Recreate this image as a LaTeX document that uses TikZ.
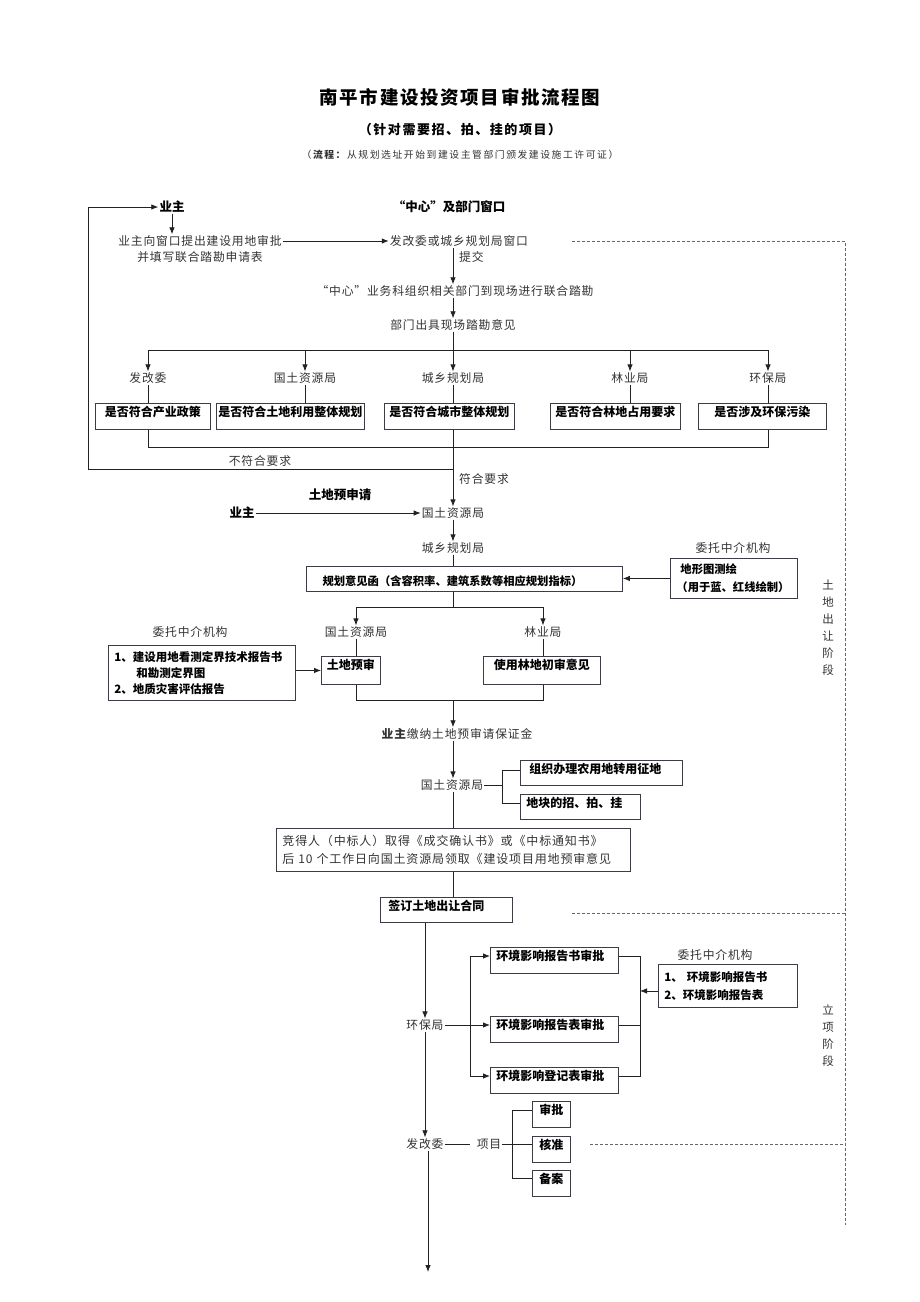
\documentclass[tikz,border=0pt]{standalone}
\usepackage{fontspec}
\setmainfont{Noto Sans CJK SC}
\newfontfamily\nfont[LetterSpace=7]{Noto Sans CJK SC}
\newfontfamily\tfont[LetterSpace=9]{Noto Sans CJK SC}
\newfontfamily\sfont[LetterSpace=12]{Noto Sans CJK SC}
\newfontfamily\pfont[LetterSpace=16]{Noto Sans CJK SC}
\usetikzlibrary{arrows.meta}
\definecolor{lnc}{HTML}{222222}
\definecolor{boxc}{HTML}{3C3C44}
\definecolor{txc}{HTML}{333333}
\definecolor{dashc}{HTML}{666666}
\begin{document}
\begin{tikzpicture}[x=1pt,y=-1pt,
 txt/.style={font=\nfont\fontsize{11.8}{14}\selectfont, inner sep=1pt, text=txc},
 btxt/.style={font=\bfseries\fontsize{12.5}{15}\selectfont, inner sep=1pt},
 ln/.style={draw=lnc, line width=0.8pt},
 arr/.style={ln, -{Latex[length=7pt,width=5.5pt]}},
 dsh/.style={draw=dashc, line width=0.8pt, dash pattern=on 3pt off 2pt},
 bx/.style={draw=boxc, line width=0.9pt, anchor=north west, inner xsep=2pt, inner ysep=0pt, font=\bfseries\fontsize{12}{14}\selectfont, align=center, text height=13.5pt},
 mbx/.style={draw=boxc, line width=0.9pt, anchor=north west, inner xsep=6pt, inner ysep=2pt, align=left},
 vlab/.style={font=\fontsize{11.5}{17}\selectfont, align=center, text=txc, inner sep=0pt},
]
\fill[white] (0,0) rectangle (920,1302);
\useasboundingbox (0,0) rectangle (920,1302);

% titles
\node[font=\tfont\bfseries\fontsize{18.5}{22}\selectfont] (title) at (460,97) {南平市建设投资项目审批流程图};
\node[font=\sfont\bfseries\fontsize{13}{16}\selectfont] (subt) at (460,130) {（针对需要招、拍、挂的项目）};
\node[font=\pfont\fontsize{9.8}{12}\selectfont, text=txc] (proc) at (460,155) {（\textbf{流程：}从规划选址开始到建设主管部门颁发建设施工许可证）};

\coordinate (cx) at (453,0);

% header
\node[btxt] (yz1) at (172,207) {业主};
\node[btxt] (zx) at (449,207) {“中心”及部门窗口};
\node[txt] (sq1) at (200,241) {业主向窗口提出建设用地审批};
\node[txt] (sq2) at (200,257) {并填写联合踏勘申请表};
\node[txt] (fgw1) at (459,241) {发改委或城乡规划局窗口};
\node[txt, anchor=west] (tj) at (458,257) {提交};
\node[txt] (zx2) at (455,291) {“中心”业务科组织相关部门到现场进行联合踏勘};
\node[txt] (bm) at (453,325) {部门出具现场踏勘意见};

\draw[arr] (yz1.south) -- (yz1.south |- sq1.north);
\draw[arr] (sq1.east) -- (fgw1.west);
\draw[arr] (fgw1.south -| cx) -- (zx2.north -| cx);
\draw[arr] (zx2.south -| cx) -- (bm.north -| cx);

% branch to departments
\coordinate (br) at (453,350);
\node[txt] (d1) at (148,378) {发改委};
\node[txt] (d2) at (305,378) {国土资源局};
\node[txt] (d3) at (453,378) {城乡规划局};
\node[txt] (d4) at (630,378) {林业局};
\node[txt] (d5) at (768,378) {环保局};
\draw[ln] (bm.south -| cx) -- (br);
\draw[ln] (br -| d1) -- (br -| d5);
\foreach \n in {d1,d2,d3,d4,d5} \draw[arr] (br -| \n) -- (\n.north);

\node[bx, minimum width=115pt, text depth=12.5pt] (q1) at (95,403) {是否符合产业政策};
\node[bx, minimum width=148pt, text depth=12.5pt] (q2) at (216,403) {是否符合土地利用整体规划};
\node[bx, minimum width=130pt, text depth=12.5pt] (q3) at (384,403) {是否符合城市整体规划};
\node[bx, minimum width=130pt, text depth=12.5pt] (q4) at (550,403) {是否符合林地占用要求};
\node[bx, minimum width=128pt, text depth=12.5pt] (q5) at (698,403) {是否涉及环保污染};
\foreach \n/\q in {d1/q1,d2/q2,d3/q3,d4/q4,d5/q5} \draw[ln] (\n.south) -- (\n.south |- \q.north);

\coordinate (jl) at (148,447);
\coordinate (jr) at (768,447);
\draw[ln] (q1.south -| jl) -- (jl) -- (jr) -- (q5.south -| jr);
\coordinate (j1) at (453,469);
\coordinate (lp) at (88,207);
\draw[arr] (j1) -| (lp) -- (yz1.west);
\node[txt] (bf) at (260,461) {不符合要求};
\node[txt, anchor=west] (fh) at (458,479) {符合要求};

% land pre-application
\node[btxt] (tdys) at (340,495) {土地预申请};
\node[btxt] (yz2) at (242,513) {业主};
\node[txt] (gt1) at (453,513) {国土资源局};
\draw[arr] (q3.south -| cx) -- (gt1.north);
\draw[arr] (yz2.east) -- (gt1.west);

\node[txt] (cg2) at (453,548) {城乡规划局};
\draw[arr] (gt1.south) -- (cg2.north);

\node[bx, minimum width=316pt, text height=19pt, text depth=6pt, font=\bfseries\fontsize{11.3}{14}\selectfont] (gh) at (306,566) {规划意见函（含容积率、建筑系数等相应规划指标）\hspace*{24pt}};
\draw[ln] (cg2.south) -- (cg2.south |- gh.north);

\node[txt] (wt1) at (733,548) {委托中介机构};
\node[mbx, minimum width=127pt, minimum height=40pt, text width=115pt, font=\bfseries\fontsize{11.3}{18}\selectfont] (dx) at (670,558) {\hspace*{4pt}地形图测绘\\（用于蓝、红线绘制）};
\draw[arr] (dx.west) -- (dx.west -| gh.east);

\coordinate (b2) at (453,607);
\node[txt] (gt2) at (356,632) {国土资源局};
\node[txt] (ly2) at (543,632) {林业局};
\draw[ln] (gh.south -| cx) -- (b2);
\draw[arr] (b2) -| (gt2.north);
\draw[arr] (b2) -| (ly2.north);

\node[bx, minimum width=59pt, text depth=14.5pt] (ys) at (321,656) {土地预审};
\node[bx, minimum width=117pt, text depth=14.5pt] (lyd) at (483,656) {使用林地初审意见};
\draw[ln] (gt2.south) -- (gt2.south |- ys.north);
\draw[ln] (ly2.south) -- (ly2.south |- lyd.north);
\coordinate (b3) at (453,700);
\draw[ln] (ys.south -| gt2) |- (b3) -| (lyd.south -| ly2);

\node[txt] (wt2) at (190,632) {委托中介机构};
\node[mbx, minimum width=187pt, minimum height=55pt, text width=175pt, font=\bfseries\fontsize{11.5}{16}\selectfont] (zj) at (108,645) {1、建设用地看测定界技术报告书\\\hspace*{22pt}和勘测定界图\\2、地质灾害评估报告};
\draw[arr] (zj.east |- ys.west) -- (ys.west);

\node[txt] (jn) at (457,734) {\textbf{业主}缴纳土地预审请保证金};
\draw[arr] (b3) -- (jn.north -| cx);

\node[txt] (gt3) at (452,785) {国土资源局};
\draw[arr] (jn.south -| cx) -- (gt3.north -| cx);

\node[bx, minimum width=162pt, text depth=11.5pt] (nz) at (520,760) {组织办理农用地转用征地\hspace*{12pt}};
\node[bx, minimum width=120pt, text depth=11.5pt] (dk) at (520,794) {地块的招、拍、挂\hspace*{12pt}};
\coordinate (k1) at (502,770);
\coordinate (k2) at (502,803);
\draw[ln] (gt3.east) -- (gt3.east -| k1);
\draw[ln] (nz.west |- k1) -- (k1) -- (k2) -- (dk.west |- k2);

\node[mbx, minimum width=354pt, minimum height=43pt, text width=342pt, font=\nfont\fontsize{12}{18}\selectfont, text=txc] (jd) at (276,828) {竞得人（中标人）取得《成交确认书》或《中标通知书》\\后 10 个工作日向国土资源局领取《建设项目用地预审意见};
\draw[ln] (gt3.south -| cx) -- (jd.north -| cx);

\node[bx, minimum width=132pt, text depth=11.5pt] (qd) at (380,897) {签订土地出让合同\hspace*{20pt}};
\draw[ln] (jd.south -| cx) -- (qd.north -| cx);

\coordinate (ds1) at (572,913);
\coordinate (ds2) at (845,913);
\draw[dsh] (ds1) -- (ds2);

% environmental stage
\node[txt] (hb) at (425,1025) {环保局};
\draw[arr] (qd.south -| hb) -- (hb.north);

\node[bx, minimum width=128pt, text depth=12.5pt] (h1) at (490,947) {环境影响报告书审批\hspace*{8pt}};
\node[bx, minimum width=128pt, text depth=12.5pt] (h2) at (490,1016) {环境影响报告表审批\hspace*{8pt}};
\node[bx, minimum width=128pt, text depth=12.5pt] (h3) at (490,1067) {环境影响登记表审批\hspace*{8pt}};
\coordinate (a1) at (470,956);
\coordinate (a3) at (470,1076);
\draw[ln] (a1) -- (a3);
\draw[arr] (a1) -- (a1 -| h1.west);
\draw[arr] (a3) -- (a3 -| h3.west);
\draw[arr] (hb.east) -- (hb.east -| h2.west);
\coordinate (r1) at (640,956);
\coordinate (r3) at (640,1076);
\draw[ln] (r1 -| h1.east) -- (r1) -- (r3) -- (r3 -| h3.east);
\draw[ln] (h2.east |- hb) -- (hb -| r1);

\node[txt] (wt3) at (715,955) {委托中介机构};
\node[mbx, minimum width=139pt, minimum height=43pt, text width=127pt, font=\bfseries\fontsize{11.5}{18}\selectfont] (zj2) at (658,964) {1、 环境影响报告书\\2、环境影响报告表};
\draw[arr] ([yshift=-5pt]zj2.west) -- ([yshift=-5pt]zj2.west -| r1);

% project stage
\node[txt] (fg) at (425,1144) {发改委};
\draw[arr] (hb.south) -- (fg.north);
\node[txt] (xm) at (489,1144) {项目};
\draw[ln] (fg.east) -- ([xshift=-6pt]xm.west);
\coordinate (m1) at (512,1110);
\coordinate (m2) at (512,1144);
\coordinate (m3) at (512,1178);
\node[bx, minimum width=38pt, text depth=12.5pt] (s1) at (532,1101) {审批};
\node[bx, minimum width=38pt, text depth=12.5pt] (s2) at (532,1136) {核准};
\node[bx, minimum width=38pt, text depth=12.5pt] (s3) at (532,1170) {备案};
\draw[ln] (xm.east) -- (m2);
\draw[ln] (s1.west |- m1) -- (m1) -- (m3) -- (s3.west |- m3);
\draw[ln] (m2) -- (m2 -| s2.west);

\coordinate (ds3) at (590,1144);
\coordinate (ds4) at (845,1144);
\draw[dsh] (ds3) -- (ds4);
\coordinate (ds5) at (572,241);
\coordinate (ds6) at (845,241);
\coordinate (ds7) at (845,1225);
\draw[dsh] (ds5) -- (ds6) -- (ds7);

\coordinate (fin) at (428,1272);
\draw[arr] (fg.south -| fin) -- (fin);

% stage labels
\node[vlab] (st1) at (828,627.5) {土\\地\\出\\让\\阶\\段};
\node[vlab] (st2) at (828,1036) {立\\项\\阶\\段};
\end{tikzpicture}
\end{document}
